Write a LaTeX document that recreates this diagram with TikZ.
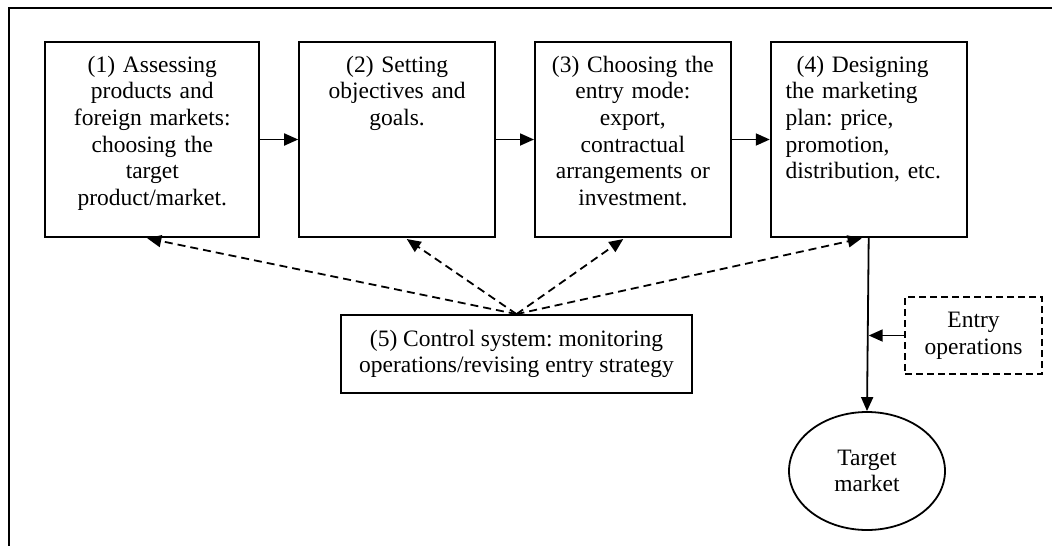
\documentclass[tikz,border=0pt]{standalone}
\usepackage{fontspec}
\setmainfont{Liberation Serif}
\usepackage{tikz}
\usetikzlibrary{arrows.meta, matrix, shapes.geometric}

\begin{document}
\begin{tikzpicture}[x=1pt,y=-1pt,line width=1.8pt,
    >={Triangle[length=14pt,width=12pt]},
    every node/.style={font=\fontsize{23.5}{26.7}\selectfont\frenchspacing}]
  \useasboundingbox (0,0) rectangle (1052,546);
  \draw (9,546) -- (9,8) -- (1052,8);
  \matrix (plan) [
      matrix of nodes,column sep=38pt,inner sep=0pt,
      nodes={draw,anchor=center,align=center,inner xsep=3pt,inner ysep=0pt,
        text width=190pt,text height=30pt,text depth=165pt}
  ] at (506,139.5) {
    |[text width=208pt]| {(1) Assessing\\products and\\foreign markets:\\choosing the\\target\\product/market.} &
    {(2) Setting\\objectives and\\goals.} &
    {(3) Choosing the\\entry mode:\\export,\\contractual\\arrangements or\\investment.} &
    |[align=left,text width=166pt,inner xsep=15pt]| {\hspace*{11pt}(4) Designing\\the marketing\\plan: price,\\promotion,\\distribution, etc.} \\
  };
  \node (control) [draw,align=center,minimum width=351pt,minimum height=78pt,
    inner sep=0pt] at (516.5,354)
    {(5) Control system: monitoring\\operations/revising entry strategy};
  \node (entry) [draw,dash pattern=on 7pt off 4pt,align=center,
    minimum width=137pt,minimum height=77pt,inner sep=0pt] at (973.5,335.5)
    {Entry\\operations};
  \node (target) [draw,ellipse,align=center,minimum width=156pt,
    minimum height=118pt,inner sep=0pt] at (867,471) {Target\\market};
  \coordinate (merge) at (entry.west -| plan-1-4.south);
  \path[->]
    (plan-1-1) edge (plan-1-2)
    (plan-1-2) edge (plan-1-3)
    (plan-1-3) edge (plan-1-4)
    (plan-1-4.south) edge (target.north)
    (entry.west) edge (merge);
  \path[->,dash pattern=on 8pt off 5pt,shorten >=2pt]
    (control.north) edge ([xshift=-7pt]plan-1-1.south)
    (control.north) edge ([xshift=8pt]plan-1-2.south)
    (control.north) edge ([xshift=-8pt]plan-1-3.south)
    (control.north) edge ([xshift=-5pt]plan-1-4.south);
\end{tikzpicture}
\end{document}
